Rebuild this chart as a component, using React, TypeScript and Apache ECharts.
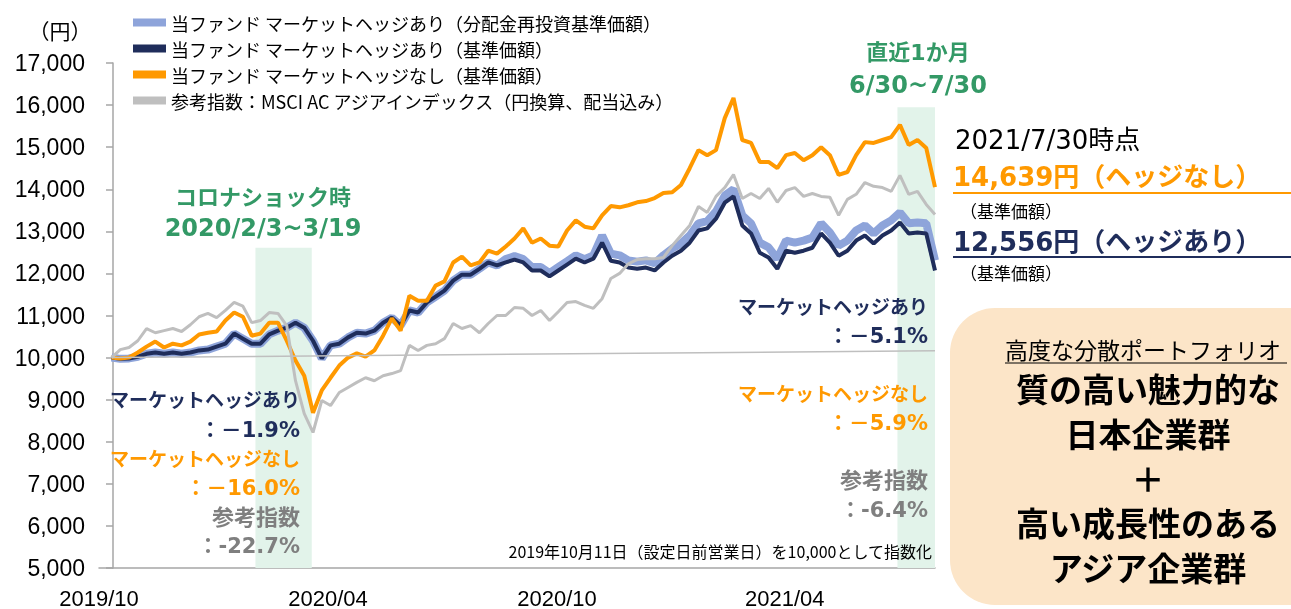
import React, { useEffect, useRef } from 'react';
import * as echarts from 'echarts';

// weekly dates (Fridays) from 2019-10-11 to 2021-07-30
const WEEKS = 95;
const dates: string[] = (() => {
  const out: string[] = [];
  const t0 = Date.UTC(2019, 9, 11);
  for (let k = 0; k < WEEKS; k++) out.push(new Date(t0 + k * 7 * 86400000).toISOString().slice(0, 10));
  return out;
})();

const seriesNames = [
  '当ファンド マーケットヘッジあり（分配金再投資基準価額）',
  '当ファンド マーケットヘッジあり（基準価額）',
  '当ファンド マーケットヘッジなし（基準価額）',
  '参考指数：MSCI AC アジアインデックス（円換算、配当込み）',
];

const hedgedReinvested = [
  10000, 9970, 9980, 10020, 10090, 10120, 10090, 10120, 10090, 10120,
  10170, 10190, 10260, 10330, 10570, 10450, 10330, 10330, 10550, 10640,
  10710, 10830, 10710, 10400, 9980, 10290, 10330, 10480, 10590, 10570,
  10640, 10830, 10950, 10760, 11120, 11070, 11310, 11450, 11590, 11830,
  11970, 11970, 12110, 12260, 12190, 12340, 12410, 12340, 12150, 12150,
  12010, 12150, 12290, 12430, 12340, 12430, 12900, 12470, 12430, 12310,
  12280, 12310, 12240, 12430, 12590, 12710, 12900, 13190, 13240, 13470,
  13850, 14000, 13380, 13190, 12730, 12620, 12350, 12780, 12730, 12780,
  12850, 13190, 12970, 12660, 12780, 13020, 13140, 12950, 13140, 13260,
  13450, 13190, 13210, 13190, 12310,
];

const hedgedNav = [
  10000, 9970, 9980, 10020, 10090, 10120, 10090, 10120, 10090, 10120,
  10170, 10190, 10260, 10330, 10570, 10450, 10330, 10330, 10550, 10640,
  10710, 10830, 10710, 10400, 9980, 10290, 10330, 10480, 10590, 10570,
  10640, 10830, 10950, 10760, 11120, 11070, 11310, 11450, 11590, 11830,
  11970, 11970, 12110, 12260, 12190, 12260, 12330, 12260, 12070, 12070,
  11930, 12070, 12210, 12350, 12260, 12350, 12730, 12300, 12260, 12140,
  12110, 12140, 12070, 12260, 12420, 12540, 12730, 13020, 13070, 13300,
  13680, 13830, 13140, 12950, 12490, 12380, 12110, 12540, 12490, 12540,
  12610, 12950, 12730, 12420, 12540, 12780, 12900, 12710, 12900, 13020,
  13210, 12950, 12970, 12950, 12070,
];

const unhedgedNav = [
  10000, 9980, 10000, 10120, 10260, 10380, 10240, 10330, 10290, 10380,
  10550, 10590, 10620, 10880, 11070, 10970, 10520, 10570, 10830, 10830,
  10400, 9930, 9570, 8690, 9220, 9520, 9810, 10000, 10100, 10020,
  10170, 10520, 10930, 10640, 11470, 11350, 11350, 11710, 11810, 12260,
  12400, 12190, 12260, 12540, 12470, 12640, 12830, 13070, 12730, 12830,
  12660, 12640, 13020, 13260, 13110, 13070, 13380, 13600, 13570, 13620,
  13690, 13720, 13790, 13910, 13930, 14100, 14500, 14930, 14810, 14930,
  15690, 16170, 15170, 15100, 14650, 14650, 14500, 14810, 14860, 14690,
  14810, 15000, 14810, 14340, 14410, 14810, 15120, 15100, 15170, 15240,
  15530, 15050, 15170, 14980, 14050,
];

const msciAsia = [
  10000, 10190, 10240, 10400, 10690, 10590, 10640, 10690, 10620, 10780,
  10970, 11050, 10950, 11120, 11310, 11220, 10830, 10880, 11070, 11050,
  10760, 9450, 8670, 8220, 8980, 8860, 9170, 9290, 9410, 9520,
  9450, 9570, 9620, 9690, 10290, 10170, 10290, 10330, 10450, 10810,
  10690, 10760, 10590, 10810, 11000, 11000, 11190, 11170, 11000, 11120,
  10880, 11090, 11310, 11330, 11240, 11170, 11400, 11880, 12000, 12230,
  12330, 12350, 12350, 12380, 12660, 12900, 13140, 13590, 13450, 13830,
  14040, 14350, 13780, 13900, 13780, 14020, 13690, 13970, 14040, 13830,
  13900, 13830, 13810, 13380, 13760, 13880, 14160, 14070, 14040, 13950,
  14330, 13880, 13950, 13640, 13400,
];

const xTickDates = ['2019-10-01', '2020-04-01', '2020-10-01', '2021-04-01'];
const xTickLabels = ['2019/10', '2020/04', '2020/10', '2021/04'];
const coronaPeriod = ['2020-02-03', '2020-03-19'];
const recentPeriod = ['2021-06-30', '2021-07-30'];
const baseLine = [['2019-10-11', 10000], ['2021-07-30', 10160]];

const localTs = (s: string) => {
  const [y, m, d] = s.split('-').map(Number);
  return new Date(y, m - 1, d).getTime();
};

const C = {
  lb: '#8EA4DA',
  navy: '#1F2D5B',
  orange: '#FF9900',
  gray: '#BFBFBF',
  grayText: '#7F7F7F',
  green: '#339966',
  shade: '#E2F3EA',
};

const JP = "'Noto Sans CJK JP', sans-serif";
const MIX = "'DejaVu Sans', 'Noto Sans CJK JP', sans-serif";
const NARROW = "'Liberation Sans Narrow', 'Liberation Sans', sans-serif";

function txt(text: string, x: number, y: number, o: any = {}) {
  const size = o.size || 18;
  return {
    type: 'text',
    x,
    y,
    z: 100,
    silent: true,
    style: {
      text,
      fill: o.fill || '#000',
      fontSize: size,
      lineHeight: o.lineHeight || Math.round(size * 1.1),
      fontWeight: o.bold ? 'bold' : 'normal',
      fontFamily: o.family || JP,
      align: o.align || 'left',
      verticalAlign: 'middle',
    },
  };
}

export default function App() {
  const ref = useRef<HTMLDivElement>(null);
  useEffect(() => {
    if (!ref.current) return;
    const chart = echarts.init(ref.current, undefined, { renderer: 'svg' });
    const mk = (vals: number[]) => dates.map((d, i) => [localTs(d), vals[i]]);

    chart.setOption({
      animation: false,
      textStyle: { fontFamily: JP },
      grid: { left: 99, right: 356, top: 63, bottom: 41, containLabel: false },
      legend: {
        orient: 'vertical',
        left: 128,
        top: 7,
        icon: 'rect',
        itemWidth: 33,
        itemHeight: 8,
        itemGap: 5,
        textStyle: { fontSize: 18, lineHeight: 21, color: '#000', fontFamily: JP },
        data: seriesNames,
      },
      xAxis: {
        type: 'time',
        min: localTs('2019-10-01'),
        max: localTs('2021-07-30'),
        axisLine: { lineStyle: { color: '#A6A6A6', width: 1.5 } },
        axisTick: { show: false },
        splitLine: { show: false },
        axisLabel: { show: false },
      },
      yAxis: {
        type: 'value',
        min: 5000,
        max: 17000,
        interval: 1000,
        offset: -14,
        axisLine: { show: true, lineStyle: { color: '#A6A6A6', width: 1.5 } },
        axisTick: { show: true, length: 7, lineStyle: { color: '#A6A6A6', width: 1.5 } },
        splitLine: { show: false },
        axisLabel: {
          fontSize: 23,
          fontFamily: NARROW,
          color: '#000',
          margin: 28,
          formatter: (v: number) => v.toLocaleString('en-US'),
        },
      },
      series: [
        {
          name: seriesNames[0],
          type: 'line',
          data: mk(hedgedReinvested),
          showSymbol: false,
          symbol: 'none',
          color: C.lb,
          lineStyle: { color: C.lb, width: 8 },
          markArea: {
            silent: true,
            itemStyle: { color: C.shade },
            data: [
              [{ coord: [localTs(coronaPeriod[0]), 5000] }, { coord: [localTs(coronaPeriod[1]), 12610] }],
              [{ coord: [localTs(recentPeriod[0]), 5000] }, { coord: [localTs(recentPeriod[1]), 15950] }],
            ],
          },
        },
        {
          name: seriesNames[1],
          type: 'line',
          data: mk(hedgedNav),
          showSymbol: false,
          symbol: 'none',
          color: C.navy,
          lineStyle: { color: C.navy, width: 4 },
        },
        {
          name: seriesNames[2],
          type: 'line',
          data: mk(unhedgedNav),
          showSymbol: false,
          symbol: 'none',
          color: C.orange,
          lineStyle: { color: C.orange, width: 4 },
        },
        {
          name: seriesNames[3],
          type: 'line',
          data: mk(msciAsia),
          showSymbol: false,
          symbol: 'none',
          color: C.gray,
          lineStyle: { color: C.gray, width: 3 },
          markLine: {
            silent: true,
            symbol: 'none',
            label: { show: false },
            lineStyle: { color: '#BFBFBF', width: 1.5, type: 'solid' },
            data: [[
              { coord: [localTs(baseLine[0][0] as string), baseLine[0][1]] },
              { coord: [localTs(baseLine[1][0] as string), baseLine[1][1]] },
            ]],
          },
        },
      ],
    });

    const axisY = chart.convertToPixel({ yAxisIndex: 0 }, 5000) as number;
    const xLabels = xTickDates.map((d, i) => {
      const px = chart.convertToPixel({ xAxisIndex: 0 }, localTs(d)) as number;
      return txt(xTickLabels[i], px, axisY + 30, { size: 22, align: 'center', family: NARROW });
    });

    const boxLines = ['質の高い魅力的な', '日本企業群', '＋', '高い成長性のある', 'アジア企業群'];
    const boxYs = [388, 433, 478, 522, 567];

    const graphic: any[] = [
      ...xLabels,
      txt('（円）', 60, 30, { size: 21, align: 'center' }),
      txt('コロナショック時', 263, 197, { size: 22, bold: true, fill: C.green, align: 'center', family: MIX }),
      txt('2020/2/3~3/19', 263, 228, { size: 24, bold: true, fill: C.green, align: 'center', family: MIX }),
      txt('直近1か月', 918, 52, { size: 22, bold: true, fill: C.green, align: 'center', family: MIX }),
      txt('6/30~7/30', 918, 85, { size: 24, bold: true, fill: C.green, align: 'center', family: MIX }),
      txt('マーケットヘッジあり', 300, 400, { size: 19, bold: true, fill: C.navy, align: 'right', family: MIX }),
      txt('：－1.9%', 300, 430, { size: 21, bold: true, fill: C.navy, align: 'right', family: MIX }),
      txt('マーケットヘッジなし', 300, 459, { size: 19, bold: true, fill: C.orange, align: 'right', family: MIX }),
      txt('：－16.0%', 300, 488, { size: 21, bold: true, fill: C.orange, align: 'right', family: MIX }),
      txt('参考指数', 300, 517, { size: 22, bold: true, fill: C.grayText, align: 'right', family: MIX }),
      txt('：-22.7%', 300, 546, { size: 21, bold: true, fill: C.grayText, align: 'right', family: MIX }),
      txt('マーケットヘッジあり', 928, 307, { size: 19, bold: true, fill: C.navy, align: 'right', family: MIX }),
      txt('：－5.1%', 928, 336, { size: 21, bold: true, fill: C.navy, align: 'right', family: MIX }),
      txt('マーケットヘッジなし', 928, 394, { size: 19, bold: true, fill: C.orange, align: 'right', family: MIX }),
      txt('：－5.9%', 928, 423, { size: 21, bold: true, fill: C.orange, align: 'right', family: MIX }),
      txt('参考指数', 928, 480, { size: 22, bold: true, fill: C.grayText, align: 'right', family: MIX }),
      txt('：-6.4%', 928, 510, { size: 21, bold: true, fill: C.grayText, align: 'right', family: MIX }),
      txt('2019年10月11日（設定日前営業日）を10,000として指数化', 932, 551, { size: 16, align: 'right' }),
      txt('2021/7/30時点', 955, 140, { size: 26, family: MIX }),
      txt('14,639円（ヘッジなし）', 953, 177, { size: 26, bold: true, fill: C.orange, family: MIX }),
      { type: 'line', z: 100, shape: { x1: 953, y1: 193, x2: 1291, y2: 193 }, style: { stroke: C.orange, lineWidth: 2 } },
      txt('（基準価額）', 960, 210, { size: 17 }),
      txt('12,556円（ヘッジあり）', 953, 242, { size: 26, bold: true, fill: C.navy, family: MIX }),
      { type: 'line', z: 100, shape: { x1: 953, y1: 257, x2: 1291, y2: 257 }, style: { stroke: C.navy, lineWidth: 2 } },
      txt('（基準価額）', 960, 272, { size: 17 }),
      { type: 'rect', z: 90, shape: { x: 950, y: 308, width: 420, height: 297, r: 45 }, style: { fill: '#FCE5C8' } },
      txt('高度な分散ポートフォリオ', 1005, 349, { size: 23 }),
      { type: 'line', z: 100, shape: { x1: 1005, y1: 363, x2: 1287, y2: 363 }, style: { stroke: '#000', lineWidth: 1 } },
      ...boxLines.map((s, i) => txt(s, 1148, boxYs[i], { size: 33, bold: true, align: 'center', lineHeight: 36 })),
    ];
    chart.setOption({ graphic });
    return () => chart.dispose();
  }, []);
  return <div ref={ref} style={{ position: 'fixed', left: 0, top: 0, width: 1291, height: 609 }} />;
}
